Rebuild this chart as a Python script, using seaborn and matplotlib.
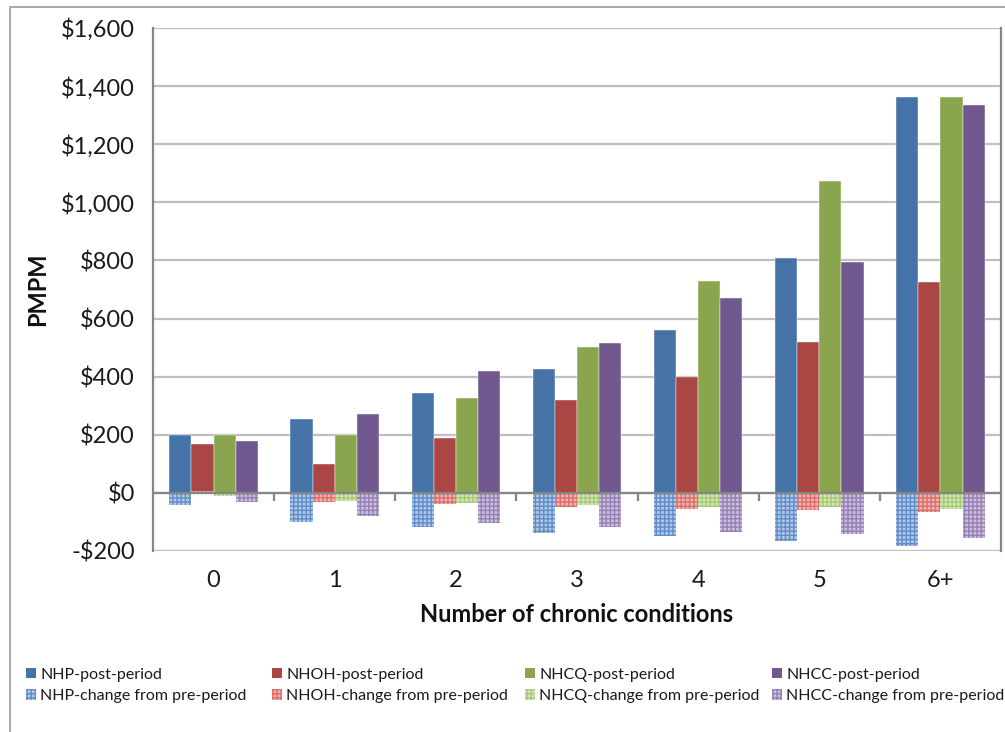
import matplotlib
matplotlib.use("Agg")
import matplotlib.pyplot as plt
from matplotlib.patches import Patch, Rectangle
from matplotlib.ticker import FuncFormatter, FixedLocator
import numpy as np
import pandas as pd
import seaborn as sns

# ---- data -------------------------------------------------------------
conditions = ["0", "1", "2", "3", "4", "5", "6+"]
plans = ["NHP", "NHOH", "NHCQ", "NHCC"]

nhp_post = [200, 255, 345, 425, 562, 810, 1363]
nhoh_post = [168, 100, 190, 320, 400, 520, 725]
nhcq_post = [200, 199, 328, 502, 730, 1075, 1363]
nhcc_post = [178, 272, 420, 517, 670, 795, 1334]

nhp_change = [-40, -100, -119, -137, -150, -165, -182]
nhoh_change = [5, -31, -39, -47, -54, -60, -66]
nhcq_change = [-11, -28, -34, -42, -47, -50, -54]
nhcc_change = [-32, -81, -104, -119, -133, -142, -156]

y_ticks = [-200, 0, 200, 400, 600, 800, 1000, 1200, 1400, 1600]

# ---- styling ----------------------------------------------------------
solid_colors = ["#4572A7", "#AA4643", "#89A54E", "#71588F"]
light_colors = ["#B3C8E6", "#F0B3B1", "#D5E6B4", "#CDBEDD"]
dot_colors = ["#5F8DC9", "#D9706C", "#A8C978", "#9580B5"]

sns.set_style("white")
plt.rcParams["font.family"] = ["Lato", "DejaVu Sans"]
plt.rcParams["hatch.linewidth"] = 1.0

post_df = pd.DataFrame({
    "cond": conditions * 4,
    "plan": sum([[p] * len(conditions) for p in plans], []),
    "value": nhp_post + nhoh_post + nhcq_post + nhcc_post,
})
change_df = pd.DataFrame({
    "cond": conditions * 4,
    "plan": sum([[p] * len(conditions) for p in plans], []),
    "value": nhp_change + nhoh_change + nhcq_change + nhcc_change,
})

fig = plt.figure(figsize=(10.05, 7.32), dpi=100)
ax = fig.add_axes([153 / 1005, 1 - 551 / 732, (1001 - 153) / 1005, (551 - 28) / 732])

sns.barplot(data=post_df, x="cond", y="value", hue="plan", order=conditions,
            hue_order=plans, palette=solid_colors, saturation=1, width=0.73,
            errorbar=None, legend=False, ax=ax, zorder=2)
n_solid = len(ax.patches)
sns.barplot(data=change_df, x="cond", y="value", hue="plan", order=conditions,
            hue_order=plans, palette=light_colors, saturation=1, width=0.73,
            errorbar=None, legend=False, ax=ax, zorder=3)

# solid bars: thin light outline
for p in ax.patches[:n_solid]:
    p.set_edgecolor("#ffffff")
    p.set_linewidth(0.3)

# change bars: light fill with a fine pattern in the series colour
change_patches = ax.patches[n_solid:]
for i, p in enumerate(change_patches):
    k = i // len(conditions)
    p.set_hatch("++++")
    p.set_edgecolor(dot_colors[k])
    p.set_linewidth(0)

ax.set_ylim(-200, 1600)
ax.set_xlim(-0.5, len(conditions) - 0.5)
ax.yaxis.set_major_locator(FixedLocator(y_ticks))


def money(v, pos):
    v = int(round(v))
    return f"-${abs(v):,}" if v < 0 else f"${v:,}"


ax.yaxis.set_major_formatter(FuncFormatter(money))

ax.set_axisbelow(True)
ax.yaxis.grid(True, color="#BFBFBF", linewidth=1.6)
ax.xaxis.grid(False)
ax.axhline(0, color="#868686", linewidth=1.6, zorder=4)

for s in ["top", "bottom"]:
    ax.spines[s].set_visible(False)
for s in ["left", "right"]:
    ax.spines[s].set_color("#868686")
    ax.spines[s].set_linewidth(1.6)

ax.tick_params(axis="y", which="major", direction="out", length=5, width=1.2,
               color="#BFBFBF", labelsize=17, labelcolor="#1a1a1a", pad=8)
ax.tick_params(axis="x", which="major", length=0, labelsize=17,
               labelcolor="#1a1a1a", pad=14)

# category boundary ticks along the zero line
zero_frac = (0 - (-200)) / (1600 - (-200))
sec = ax.secondary_xaxis(zero_frac)
sec.set_xticks(np.arange(0.5, len(conditions) - 0.5, 1.0))
sec.set_xticklabels([])
sec.tick_params(direction="out", length=5.5, width=1.6, color="#868686")
sec.spines["bottom"].set_visible(False)
sec.spines["top"].set_visible(False)

ax.set_xlabel("Number of chronic conditions", fontsize=17, fontweight="bold",
              color="#111111", labelpad=8)
ax.set_ylabel("PMPM", fontsize=17, fontweight="bold", color="#111111")
ax.yaxis.set_label_coords((49 - 153) / 848, 0.5)

# legend: one two-row block per plan, four columns across the bottom
legend_x = [26, 272, 525, 772]
for k, plan in enumerate(plans):
    handles = [
        Patch(facecolor=solid_colors[k], edgecolor="none",
              label=f"{plan}-post-period"),
        Patch(facecolor=light_colors[k], edgecolor=dot_colors[k],
              hatch="++++", linewidth=0,
              label=f"{plan}-change from pre-period"),
    ]
    leg = fig.legend(handles=handles, loc="upper left",
                     bbox_to_anchor=(legend_x[k] / 1005, 1 - 668 / 732),
                     frameon=False, fontsize=11.5, handlelength=0.6,
                     handleheight=0.6, handletextpad=0.3, labelspacing=0.45,
                     borderpad=0, borderaxespad=0)
    for t in leg.get_texts():
        t.set_color("#1a1a1a")

# outer chart frame
fig.patches.append(Rectangle((10 / 1005, -0.05), 1.2, 1 - 7 / 732 + 0.05,
                             transform=fig.transFigure, fill=False,
                             edgecolor="#9a9a9a", linewidth=1.2))

fig.savefig("out.png", dpi=100, facecolor="white")
